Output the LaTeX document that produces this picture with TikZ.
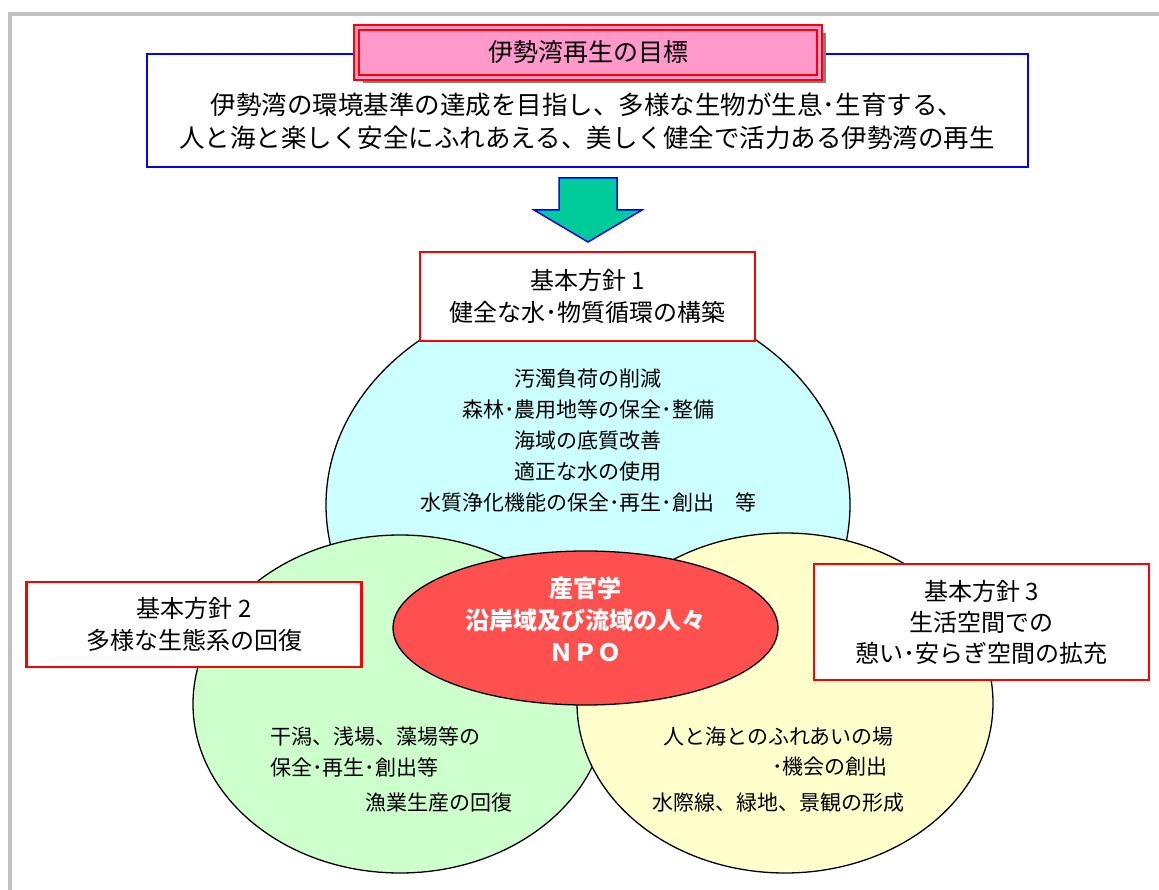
\documentclass[tikz,border=0pt]{standalone}
\usepackage{fontspec}
\setmainfont{Noto Sans CJK JP}
\usetikzlibrary{shapes.geometric,shadows}
\definecolor{titlepink}{HTML}{FF99CC}
\definecolor{waterblue}{HTML}{CCFFFF}
\definecolor{lifegreen}{HTML}{CCFFCC}
\definecolor{spaceyellow}{HTML}{FFFFCC}
\definecolor{actorred}{HTML}{FF5050}
\definecolor{arrowgreen}{HTML}{00CC99}
\definecolor{framegray}{HTML}{C0C0C0}
\begin{document}
\begin{tikzpicture}[
  x=1pt, y=-1pt,
  bigfont/.style={font=\fontsize{25.5pt}{33pt}\selectfont},
  boxfont/.style={font=\fontsize{24pt}{32pt}\selectfont},
  item/.style={font=\fontsize{21pt}{31pt}\selectfont, inner sep=0pt},
  titlebox/.style={draw=red, line width=2pt, double=titlepink, double distance=3pt, fill=titlepink,
    minimum width=463pt, minimum height=50pt,
    drop shadow={shadow xshift=6pt, shadow yshift=-6pt, fill=black!50, opacity=1},
    font=\fontsize{25pt}{30pt}\selectfont},
  goalbox/.style={draw=blue, line width=2pt, fill=white, minimum width=881pt, minimum height=113pt},
  policy/.style={draw=red, line width=2.5pt, fill=white, align=center, minimum width=335pt, boxfont},
  zone/.style={ellipse, draw, line width=1.3pt, inner sep=0pt},
  blockarrow/.style={draw=blue, line width=1.5pt, fill=arrowgreen, line join=miter}
]
\useasboundingbox (0,0) rectangle (1159,890);
\draw[framegray, line width=4pt] (10,892) -- (10,14) -- (1161,14);
% goal
\node[goalbox] (goal) at (587.5,110.5) {};
\node[bigfont, align=center] (goaltext) at (587,121) {伊勢湾の環境基準の達成を目指し、多様な生物が生息･生育する、\\人と海と楽しく安全にふれあえる、美しく健全で活力ある伊勢湾の再生};
\node[titlebox] (title) at (588,52.5) {伊勢湾再生の目標};
\draw[blockarrow] (559,178) -- (617,178) -- (617,210) -- (642,210) -- (588,242)
  -- (534,210) -- (559,210) -- cycle;
% policy 1
\node[zone, fill=waterblue, minimum width=524pt, minimum height=430pt] (water) at (588,505) {};
\node[policy, minimum height=89pt] (policy1) at (587.5,296.5) {基本方針 1\\健全な水･物質循環の構築};
\node[item, align=center] (watertext) at (588,440.5) {汚濁負荷の削減\\森林･農用地等の保全･整備\\海域の底質改善\\適正な水の使用\\水質浄化機能の保全･再生･創出　等};
% policy 2 and 3
\node[zone, fill=lifegreen, minimum width=414pt, minimum height=338pt] (life) at (400,704) {};
\node[zone, fill=spaceyellow, minimum width=416pt, minimum height=340pt] (space) at (785,703) {};
\node[zone, fill=actorred, minimum width=385pt, minimum height=154pt] (actors) at (585.5,628) {};
\node[font=\fontsize{24pt}{32pt}\selectfont\bfseries, text=white, align=center] (actortext)
  at ([yshift=9pt]actors.center) {産官学\\沿岸域及び流域の人々\\ＮＰＯ};
\node[policy, minimum height=85pt] (policy2) at (194,624.5) {基本方針 2\\多様な生態系の回復};
\node[policy, minimum height=116pt, font=\fontsize{24pt}{31pt}\selectfont] (policy3) at (981.5,622) {基本方針 3\\生活空間での\\憩い･安らぎ空間の拡充};
\node[item, anchor=west] (life1) at (270,737) {干潟、浅場、藻場等の};
\node[item, anchor=west] (life2) at (270,767) {保全･再生･創出等};
\node[item, anchor=west] (life3) at (365,803) {漁業生産の回復};
\node[item, anchor=west] (space1) at (663,737) {人と海とのふれあいの場};
\node[item, anchor=west] (space2) at (772,767) {･機会の創出};
\node[item, anchor=west] (space3) at (652,803) {水際線、緑地、景観の形成};
\end{tikzpicture}
\end{document}
